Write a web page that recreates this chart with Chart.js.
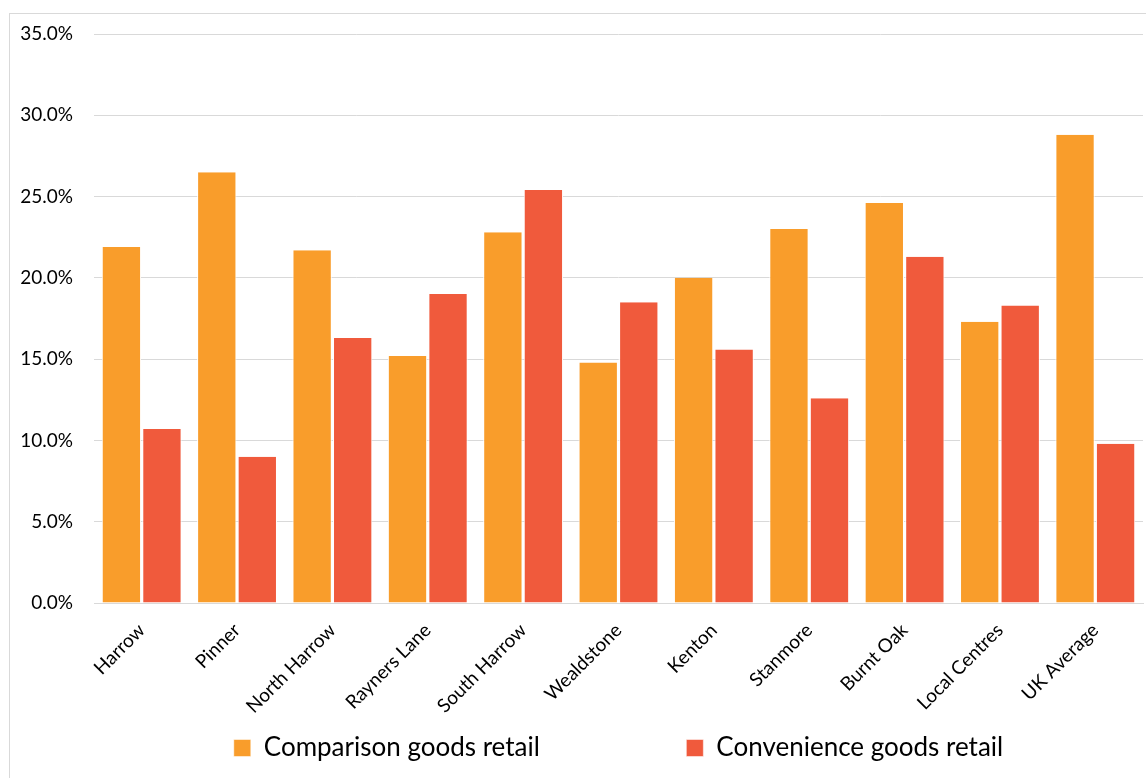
<!DOCTYPE html>
<html>
<head>
<meta charset="utf-8">
<script src="https://cdn.jsdelivr.net/npm/chart.js@4"></script>
<style>
  html, body { margin: 0; padding: 0; background: #fff; overflow: hidden; }
  #frame {
    position: absolute; left: 9px; top: 13px;
    width: 1150px; height: 780px;
    border: 1px solid #d9d9d9; box-sizing: border-box;
  }
  #wrap { position: absolute; left: 10px; top: 14px; width: 1136px; height: 764px; }
</style>
</head>
<body>
<div id="frame"></div>
<div id="wrap"><canvas id="retailChart"></canvas></div>
<script>
// Share of retail units by centre
const centres = ["Harrow", "Pinner", "North Harrow", "Rayners Lane", "South Harrow",
  "Wealdstone", "Kenton", "Stanmore", "Burnt Oak", "Local Centres", "UK Average"];
const comparisonGoods = [21.9, 26.5, 21.7, 15.2, 22.8, 14.8, 20.0, 23.0, 24.6, 17.3, 28.8];
const convenienceGoods = [10.7, 9.0, 16.3, 19.0, 25.4, 18.5, 15.6, 12.6, 21.3, 18.3, 9.8];
const yTicks = [0, 5, 10, 15, 20, 25, 30, 35];

const FONT = "Lato, 'Open Sans', sans-serif";

const ctx = document.getElementById("retailChart").getContext("2d");
new Chart(ctx, {
  type: "bar",
  data: {
    labels: centres,
    datasets: [
      {
        label: "Comparison goods retail",
        data: comparisonGoods,
        backgroundColor: "#F99D2B",
        borderColor: "#ffffff",
        borderWidth: { left: 1, right: 1 },
        borderSkipped: false,
      },
      {
        label: "Convenience goods retail",
        data: convenienceGoods,
        backgroundColor: "#F05A3C",
        borderColor: "#ffffff",
        borderWidth: { left: 1, right: 1 },
        borderSkipped: false,
      },
    ],
  },
  options: {
    responsive: true,
    maintainAspectRatio: false,
    animation: false,
    datasets: { bar: { categoryPercentage: 0.85, barPercentage: 0.97 } },
    layout: { padding: { top: 20, right: 3, left: 0, bottom: 7 } },
    plugins: {
      legend: {
        position: "bottom",
        fullSize: false, // centre under the plot area
        labels: {
          color: "#000",
          font: { family: FONT, size: 26 },
          boxWidth: 17,
          boxHeight: 17,
          padding: 10,
          // wide gap between the two entries
          generateLabels: (chart) => {
            const items = Chart.defaults.plugins.legend.labels.generateLabels(chart);
            items[0].text += "\u2003".repeat(7);
            return items;
          },
        },
      },
      tooltip: { enabled: false },
    },
    scales: {
      x: {
        grid: { display: false, drawTicks: false },
        border: { color: "#d9d9d9", width: 1 },
        ticks: {
          color: "#000",
          font: { family: FONT, size: 19 },
          minRotation: 45,
          maxRotation: 45,
          padding: 16,
        },
        afterFit: (scale) => { scale.height = 122; },
      },
      y: {
        min: 0,
        max: 35,
        afterBuildTicks: (scale) => { scale.ticks = yTicks.map((v) => ({ value: v })); },
        grid: { color: "#d9d9d9", drawTicks: false },
        border: { display: false },
        ticks: {
          color: "#000",
          font: { family: FONT, size: 19 },
          padding: 21,
          callback: (v) => v.toFixed(1) + "%",
        },
        afterFit: (scale) => {
          scale.width = 84;
          // tick padding is horizontal only here, don't let it push the plot down
          scale.paddingTop = 0;
          scale.paddingBottom = 0;
        },
      },
    },
  },
});
</script>
</body>
</html>
